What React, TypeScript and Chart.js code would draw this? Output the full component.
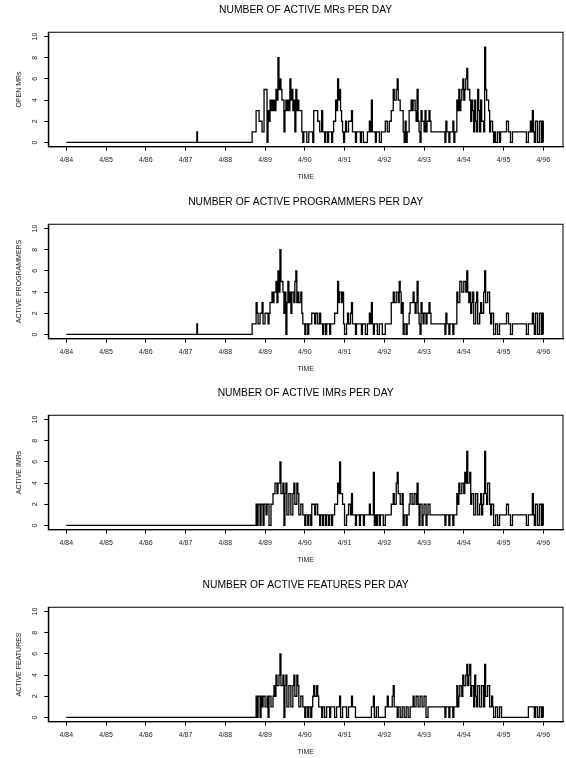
import React, { useEffect, useRef } from 'react';
import { Chart, registerables } from 'chart.js';

Chart.register(...registerables);

const FONT = '"Liberation Sans", Arial, Helvetica, sans-serif';

// Axis definitions
const X_TICK_VALUES = [1984.25, 1985.25, 1986.25, 1987.25, 1988.25, 1989.25, 1990.25, 1991.25, 1992.25, 1993.25, 1994.25, 1995.25, 1996.25];
const X_TICK_LABELS = ['4/84', '4/85', '4/86', '4/87', '4/88', '4/89', '4/90', '4/91', '4/92', '4/93', '4/94', '4/95', '4/96'];
const Y_TICKS = [0, 2, 4, 6, 8, 10];
const X_MIN = 1983.797;
const X_MAX = 1996.746;
const Y_MIN = -0.4;
const Y_MAX = 10.4;

// Early, quiet period (change points: time in years, value)
const EARLY_TIMES = [1984.25, 1987.535, 1987.55];
const EARLY_MRS = [0, 1, 0];
const EARLY_PROGRAMMERS = [0, 1, 0];
const EARLY_IMRS = [0, 0, 0];
const EARLY_FEATURES = [0, 0, 0];

// Active period: for every SAMPLE_STEP years from SAMPLE_START, the count read
// at the start of the step and the count read at its middle.
const SAMPLE_START = 1988.925;
const SAMPLE_STEP = 0.05;

const MRS_START = [
  1, 1, 3, 3, 2, 1, 5, 5, 3, 4,
  4, 4, 5, 8, 6, 4, 1, 4, 4, 6,
  5, 4, 5, 4, 3, 1, 1, 1, 0, 1,
  1, 3, 3, 2, 1, 3, 1, 1, 0, 1,
  0, 2, 4, 6, 5, 2, 0, 2, 1, 2,
  3, 1, 0, 1, 1, 1, 0, 0, 1, 2,
  4, 1, 0, 1, 0, 1, 1, 2, 1, 2,
  3, 5, 4, 6, 4, 3, 1, 2, 1, 3,
  4, 4, 3, 5, 1, 3, 2, 3, 2, 3,
  1, 1, 1, 1, 1, 1, 1, 0, 1, 0,
  1, 2, 1, 4, 5, 4, 6, 5, 7, 5,
  2, 3, 4, 1, 3, 4, 2, 9, 4, 3,
  2, 1, 1, 0, 1, 1, 1, 1, 2, 1,
  0, 1, 1, 1, 1, 1, 1, 1, 0, 1,
  2, 3, 0, 2, 0, 2, 2,
];
const MRS_MID = [
  1, 1, 3, 2, 2, 1, 5, 0, 2, 3,
  3, 3, 4, 5, 5, 4, 3, 3, 3, 4,
  3, 1, 3, 3, 3, 0, 1, 0, 1, 1,
  0, 3, 3, 2, 1, 1, 0, 1, 1, 1,
  1, 2, 3, 4, 3, 1, 1, 1, 2, 2,
  1, 1, 1, 1, 0, 1, 0, 0, 1, 1,
  1, 1, 1, 1, 0, 1, 1, 2, 1, 2,
  3, 4, 5, 4, 3, 3, 0, 0, 1, 3,
  3, 4, 2, 2, 0, 2, 1, 1, 2, 2,
  1, 1, 1, 1, 1, 1, 1, 2, 1, 1,
  1, 0, 1, 3, 3, 5, 4, 6, 5, 4,
  4, 1, 2, 5, 1, 2, 1, 5, 4, 1,
  2, 0, 0, 1, 0, 1, 1, 1, 2, 1,
  0, 1, 1, 1, 1, 1, 1, 1, 0, 1,
  1, 1, 2, 0, 2, 0, 0,
];

const PROGRAMMERS_START = [
  1, 1, 3, 1, 2, 3, 1, 2, 1, 3,
  4, 4, 5, 6, 8, 5, 2, 0, 5, 4,
  4, 3, 6, 4, 3, 2, 1, 1, 0, 1,
  2, 2, 2, 1, 2, 1, 1, 0, 1, 0,
  1, 1, 2, 5, 4, 3, 1, 0, 2, 1,
  3, 1, 0, 1, 1, 0, 1, 0, 1, 2,
  3, 0, 1, 0, 1, 1, 0, 1, 1, 1,
  3, 4, 3, 4, 5, 2, 0, 1, 1, 2,
  3, 4, 2, 5, 1, 3, 1, 2, 2, 3,
  1, 1, 1, 1, 1, 1, 1, 0, 1, 0,
  1, 0, 1, 4, 3, 5, 4, 5, 6, 3,
  2, 4, 1, 4, 1, 3, 2, 6, 3, 4,
  1, 2, 0, 1, 0, 1, 1, 1, 2, 1,
  0, 1, 1, 1, 1, 1, 1, 1, 0, 1,
  1, 2, 0, 2, 0, 2, 2,
];
const PROGRAMMERS_MID = [
  1, 1, 2, 1, 2, 1, 2, 2, 2, 3,
  3, 4, 3, 4, 5, 4, 4, 3, 3, 2,
  4, 5, 3, 3, 4, 1, 0, 1, 1, 1,
  2, 1, 2, 1, 1, 0, 1, 1, 1, 1,
  1, 2, 2, 3, 4, 4, 0, 1, 1, 2,
  1, 1, 1, 1, 1, 1, 1, 0, 1, 1,
  1, 1, 1, 0, 1, 0, 0, 1, 1, 1,
  3, 3, 4, 3, 4, 3, 1, 0, 1, 3,
  3, 3, 3, 2, 0, 2, 2, 1, 2, 2,
  1, 1, 1, 1, 1, 1, 1, 2, 1, 1,
  1, 1, 1, 3, 5, 4, 5, 4, 4, 4,
  3, 1, 3, 1, 2, 2, 4, 3, 4, 2,
  2, 0, 1, 0, 1, 1, 1, 1, 2, 1,
  0, 1, 1, 1, 1, 1, 1, 1, 0, 1,
  1, 1, 2, 0, 2, 0, 0,
];

const IMRS_START = [
  0, 0, 2, 2, 0, 2, 2, 1, 2, 0,
  2, 3, 4, 4, 6, 3, 0, 4, 1, 3,
  1, 4, 2, 3, 1, 2, 1, 1, 0, 1,
  2, 2, 2, 1, 0, 1, 1, 0, 1, 1,
  0, 1, 2, 4, 6, 3, 2, 0, 1, 2,
  3, 1, 0, 1, 0, 1, 0, 1, 1, 2,
  1, 5, 1, 1, 0, 1, 0, 1, 1, 1,
  2, 3, 2, 5, 3, 2, 0, 1, 1, 2,
  3, 2, 3, 4, 0, 2, 1, 2, 1, 2,
  1, 1, 1, 1, 1, 1, 1, 0, 1, 0,
  1, 0, 1, 3, 4, 3, 4, 5, 7, 4,
  2, 3, 1, 3, 1, 3, 2, 7, 2, 4,
  1, 2, 0, 1, 0, 1, 1, 1, 2, 1,
  0, 1, 1, 1, 1, 1, 1, 1, 0, 1,
  1, 3, 0, 2, 0, 2, 2,
];
const IMRS_MID = [
  0, 0, 0, 2, 2, 0, 2, 2, 0, 2,
  3, 4, 3, 4, 3, 4, 3, 1, 3, 1,
  3, 2, 4, 1, 2, 1, 0, 1, 1, 0,
  2, 1, 2, 1, 1, 0, 1, 1, 0, 1,
  1, 2, 2, 3, 3, 2, 0, 1, 2, 1,
  1, 1, 1, 1, 1, 1, 1, 1, 1, 1,
  1, 0, 0, 1, 1, 1, 0, 1, 1, 1,
  2, 2, 4, 3, 2, 3, 1, 0, 1, 3,
  2, 3, 2, 2, 2, 0, 2, 0, 2, 1,
  1, 1, 1, 1, 1, 1, 1, 1, 1, 1,
  1, 1, 1, 2, 3, 4, 3, 4, 4, 5,
  3, 1, 3, 1, 2, 1, 3, 3, 4, 2,
  2, 0, 1, 0, 1, 1, 1, 1, 2, 1,
  0, 1, 1, 1, 1, 1, 1, 1, 0, 1,
  1, 1, 2, 0, 2, 0, 0,
];

const FEATURES_START = [
  0, 0, 2, 2, 0, 1, 2, 1, 0, 2,
  1, 3, 4, 3, 6, 3, 0, 4, 1, 3,
  1, 4, 2, 3, 1, 2, 1, 1, 0, 1,
  1, 3, 2, 2, 1, 0, 1, 0, 1, 0,
  1, 1, 0, 1, 2, 0, 1, 1, 0, 1,
  2, 1, 0, 0, 0, 0, 0, 0, 0, 0,
  1, 2, 0, 1, 0, 0, 0, 1, 2, 1,
  1, 3, 1, 0, 1, 0, 1, 0, 1, 0,
  1, 2, 1, 2, 1, 2, 1, 2, 0, 1,
  1, 1, 1, 1, 1, 1, 1, 0, 1, 0,
  1, 0, 1, 3, 2, 3, 4, 3, 5, 4,
  2, 3, 4, 1, 3, 1, 3, 5, 2, 3,
  1, 1, 0, 1, 0, 1, 0, 0, 0, 0,
  0, 0, 0, 0, 0, 0, 0, 0, 0, 1,
  1, 1, 0, 1, 0, 1, 1,
];
const FEATURES_MID = [
  0, 0, 0, 2, 2, 2, 1, 2, 2, 1,
  2, 2, 3, 4, 3, 4, 3, 1, 3, 1,
  3, 2, 4, 1, 2, 1, 0, 1, 1, 0,
  2, 2, 3, 1, 1, 1, 0, 1, 1, 1,
  1, 0, 1, 1, 0, 1, 1, 0, 1, 1,
  1, 1, 0, 0, 0, 0, 0, 0, 0, 0,
  1, 0, 1, 0, 0, 0, 0, 1, 1, 1,
  2, 1, 1, 1, 0, 1, 0, 1, 0, 1,
  1, 1, 2, 1, 2, 1, 2, 0, 1, 1,
  1, 1, 1, 1, 1, 1, 1, 1, 1, 1,
  1, 1, 1, 1, 3, 2, 3, 4, 3, 5,
  3, 1, 2, 3, 1, 3, 1, 2, 3, 1,
  2, 0, 1, 0, 1, 0, 0, 0, 0, 0,
  0, 0, 0, 0, 0, 0, 0, 0, 0, 1,
  1, 1, 1, 0, 1, 0, 0,
];

const TITLES = [
  'NUMBER OF ACTIVE MRs PER DAY',
  'NUMBER OF ACTIVE PROGRAMMERS PER DAY',
  'NUMBER OF ACTIVE IMRs PER DAY',
  'NUMBER OF ACTIVE FEATURES PER DAY',
];
const Y_TITLES = ['OPEN MRs', 'ACTIVE PROGRAMMERS', 'ACTIVE IMRs', 'ACTIVE FEATURES'];
const X_TITLE = 'TIME';

function buildPoints(early: number[], start: number[], mid: number[]) {
  const pts = EARLY_TIMES.map((t, i) => ({ x: t, y: early[i] }));
  start.forEach((v, i) => {
    const t = SAMPLE_START + i * SAMPLE_STEP;
    pts.push({ x: t, y: v });
    pts.push({ x: t + SAMPLE_STEP / 2, y: mid[i] });
  });
  return pts;
}

const SERIES = [
  buildPoints(EARLY_MRS, MRS_START, MRS_MID),
  buildPoints(EARLY_PROGRAMMERS, PROGRAMMERS_START, PROGRAMMERS_MID),
  buildPoints(EARLY_IMRS, IMRS_START, IMRS_MID),
  buildPoints(EARLY_FEATURES, FEATURES_START, FEATURES_MID),
];

const CANVAS_W = 566;
const CANVAS_H = 183;
const PANEL_TOPS = [0, 192, 383, 575];

const boxPlugin = {
  id: 'plotBox',
  afterDraw(chart: any) {
    const { ctx, chartArea: a } = chart;
    ctx.save();
    ctx.strokeStyle = '#000';
    ctx.lineWidth = 1;
    ctx.strokeRect(a.left, a.top, a.right - a.left, a.bottom - a.top);
    ctx.restore();
  },
};

function Panel({ index }: { index: number }) {
  const ref = useRef<HTMLCanvasElement | null>(null);
  useEffect(() => {
    if (!ref.current) return;
    const smallFont = { family: FONT, size: 7 };
    const chart = new Chart(ref.current, {
      type: 'line',
      data: {
        datasets: [
          {
            data: SERIES[index],
            borderColor: '#000',
            borderWidth: 1.3,
            pointRadius: 0,
            stepped: 'before',
            fill: false,
            tension: 0,
          },
        ],
      },
      options: {
        responsive: false,
        animation: false,
        devicePixelRatio: 1,
        layout: { padding: { left: 0, right: 3, top: 0, bottom: 0 } },
        plugins: {
          legend: { display: false },
          tooltip: { enabled: false },
          title: {
            display: true,
            text: TITLES[index],
            fullSize: false,
            color: '#000',
            font: { family: FONT, size: 10.3, weight: 'normal' },
            padding: { top: 4.1, bottom: 15.8 },
          },
        },
        scales: {
          x: {
            type: 'linear',
            min: X_MIN,
            max: X_MAX,
            afterBuildTicks: (s: any) => {
              s.ticks = X_TICK_VALUES.map((v) => ({ value: v }));
            },
            afterFit: (s: any) => {
              s.height = 36.3;
            },
            ticks: {
              autoSkip: false,
              maxRotation: 0,
              minRotation: 0,
              padding: 5,
              color: '#222',
              font: smallFont,
              callback: (_v: any, i: number) => X_TICK_LABELS[i],
            },
            grid: { drawOnChartArea: false, drawTicks: true, tickLength: 4, color: '#000', lineWidth: 1 },
            border: { display: true, color: '#000', width: 1.3 },
            title: { display: true, text: X_TITLE, color: '#222', font: smallFont, padding: { top: 0, bottom: 2 } },
          },
          y: {
            type: 'linear',
            min: Y_MIN,
            max: Y_MAX,
            afterBuildTicks: (s: any) => {
              s.ticks = Y_TICKS.map((v) => ({ value: v }));
            },
            afterFit: (s: any) => {
              s.width = 48.3;
            },
            ticks: {
              autoSkip: false,
              minRotation: 90,
              maxRotation: 90,
              crossAlign: 'center',
              padding: 5,
              color: '#222',
              font: smallFont,
              callback: (v: any) => String(v),
            },
            grid: { drawOnChartArea: false, drawTicks: true, tickLength: 4, color: '#000', lineWidth: 1 },
            border: { display: true, color: '#000', width: 1.3 },
            title: { display: true, text: Y_TITLES[index], color: '#222', font: smallFont, padding: { top: 14.6, bottom: 0 } },
          },
        },
      } as any,
      plugins: [boxPlugin],
    });
    return () => chart.destroy();
  }, [index]);
  return (
    <canvas
      ref={ref}
      width={CANVAS_W}
      height={CANVAS_H}
      style={{ position: 'absolute', left: 0, top: PANEL_TOPS[index], width: CANVAS_W, height: CANVAS_H }}
    />
  );
}

export default function App() {
  return (
    <div
      style={{
        position: 'fixed',
        left: 0,
        top: 0,
        width: CANVAS_W,
        height: 758,
        background: '#fff',
        overflow: 'hidden',
      }}
    >
      {TITLES.map((_, i) => (
        <Panel key={i} index={i} />
      ))}
    </div>
  );
}
